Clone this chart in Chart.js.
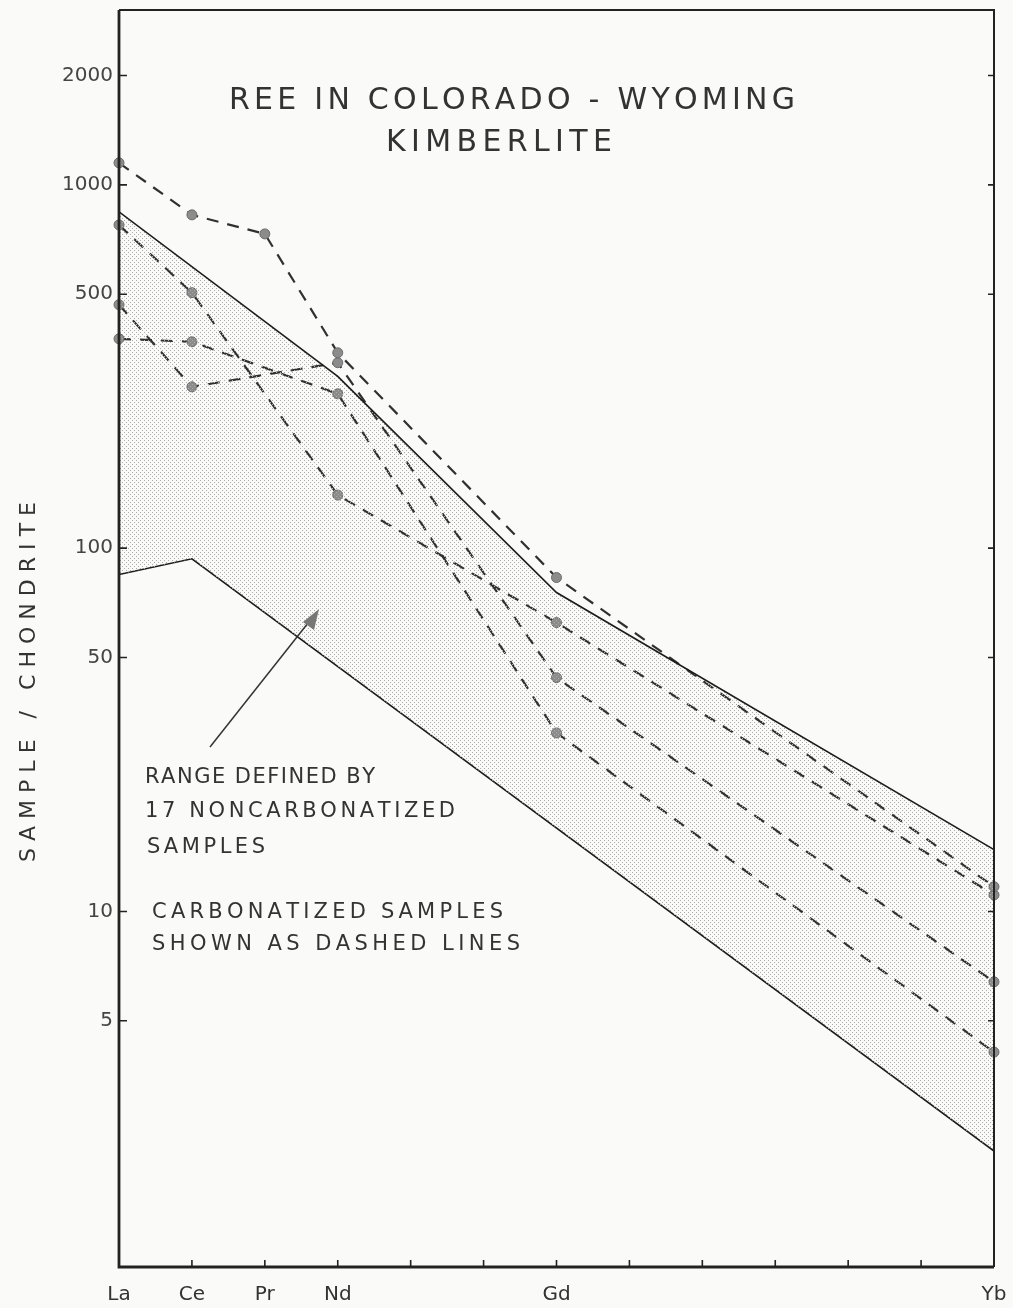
<!DOCTYPE html>
<html>
<head>
<meta charset="utf-8">
<script src="https://cdn.jsdelivr.net/npm/chart.js@4.4.1/dist/chart.umd.min.js"></script>
<style>
  html, body { margin: 0; padding: 0; background: #fafaf8; overflow: hidden; }
  #wrap { width: 1013px; height: 1308px; position: relative; }
</style>
</head>
<body>
<div id="wrap"><canvas id="reeChart"></canvas></div>
<script>
// REE pattern, sample / chondrite, log scale
const elements = ['La', 'Ce', 'Pr', 'Nd', 'Sm', 'Eu', 'Gd', 'Tb', 'Dy', 'Ho', 'Er', 'Tm', 'Yb'];
const shownLabels = ['La', 'Ce', 'Pr', 'Nd', 'Gd', 'Yb'];
const yTickValues = [5, 10, 50, 100, 500, 1000, 2000];

// range of the 17 noncarbonatized samples
const rangeUpper = [843, null, null, 297, null, null, 75.5, null, null, null, null, null, 14.8];
const rangeLower = [84.6, 93.5, null, null, null, null, null, null, null, null, null, null, 2.19];

// carbonatized samples (dashed)
const carb1 = [1150, 827, 733, 345, null, null, 83, null, null, null, null, null, 11.7];
const carb2 = [776, 505, null, 140, null, null, 62.4, null, null, null, null, null, 11.1];
const carb3 = [468, 278, null, 324, null, null, 44, null, null, null, null, null, 6.4];
const carb4 = [377, 370, null, 266, null, null, 31, null, null, null, null, null, 4.1];

const titleLines = ['REE IN COLORADO - WYOMING', 'KIMBERLITE'];
const noteLines = ['RANGE DEFINED BY', '17 NONCARBONATIZED', 'SAMPLES', 'CARBONATIZED SAMPLES', 'SHOWN AS DASHED LINES'];
const yTitle = 'SAMPLE / CHONDRITE';

function toPoints(arr) {
    return arr.map((v, i) => v == null ? null : { x: i, y: v }).filter(p => p);
}

// stipple pattern for the range band
const pc = document.createElement('canvas');
pc.width = 4; pc.height = 4;
const pctx = pc.getContext('2d');
pctx.fillStyle = '#ababab';
pctx.fillRect(0, 0, 1, 1);
pctx.fillRect(2, 2, 1, 1);

const canvas = document.getElementById('reeChart');
const ctx = canvas.getContext('2d');
const stipple = ctx.createPattern(pc, 'repeat');

const ink = '#333';
const font = '"DejaVu Sans", sans-serif';

function dashed(data) {
    return {
        data: toPoints(data), borderColor: '#303030', borderWidth: 2.2, borderDash: [12, 9],
        pointRadius: 5, pointBackgroundColor: '#8c8c8c', pointBorderColor: '#6a6a6a', pointBorderWidth: 1,
        fill: false, tension: 0, clip: 8
    };
}

// draw text stretched to a given width
function spacedText(c, text, x1, x2, y) {
    const widths = [...text].map(ch => c.measureText(ch).width);
    const total = widths.reduce((a, b) => a + b, 0);
    const gap = text.length > 1 ? (x2 - x1 - total) / (text.length - 1) : 0;
    let x = x1;
    [...text].forEach((ch, i) => { c.fillText(ch, x, y); x += widths[i] + gap; });
}

function noScalePadding(s) {
    s.paddingTop = 0; s.paddingBottom = 0; s.paddingLeft = 0; s.paddingRight = 0;
}

const framePlugin = {
    id: 'frame',
    afterDraw(chart) {
        const c = chart.ctx;
        const a = chart.chartArea;
        const xs = chart.scales.x, ys = chart.scales.y;
        c.save();
        c.strokeStyle = '#222';
        c.lineWidth = 2;
        c.beginPath();
        c.moveTo(a.left, a.top); c.lineTo(a.right, a.top); c.lineTo(a.right, a.bottom);
        c.stroke();
        c.lineWidth = 2.8;
        c.beginPath();
        c.moveTo(a.left, a.top); c.lineTo(a.left, a.bottom); c.lineTo(a.right, a.bottom);
        c.stroke();
        c.lineWidth = 1.6;
        c.beginPath();
        yTickValues.forEach(v => {
            const y = ys.getPixelForValue(v);
            c.moveTo(a.left, y); c.lineTo(a.left + 8, y);
            c.moveTo(a.right, y); c.lineTo(a.right - 6, y);
        });
        elements.forEach((e, i) => {
            if (i === 0 || i === elements.length - 1) return;
            const x = xs.getPixelForValue(i);
            c.moveTo(x, a.bottom); c.lineTo(x, a.bottom - 7);
        });
        c.stroke();
        c.restore();
    }
};

const textPlugin = {
    id: 'texts',
    afterDraw(chart) {
        const c = chart.ctx;
        c.save();
        c.fillStyle = ink;
        c.textBaseline = 'middle';
        c.textAlign = 'left';

        c.font = '30px ' + font;
        spacedText(c, titleLines[0], 229, 795, 101);
        spacedText(c, titleLines[1], 386, 612, 143);

        c.font = '21px ' + font;
        spacedText(c, noteLines[0], 145, 375, 778);
        spacedText(c, noteLines[1], 145, 455, 812);
        spacedText(c, noteLines[2], 147, 265, 848);
        spacedText(c, noteLines[3], 152, 503, 913);
        spacedText(c, noteLines[4], 152, 520, 945);

        // arrow to the band
        c.strokeStyle = '#333';
        c.lineWidth = 1.5;
        c.beginPath();
        c.moveTo(210, 747);
        c.lineTo(312, 618);
        c.stroke();
        c.fillStyle = '#777';
        c.beginPath();
        c.moveTo(319, 609);
        c.lineTo(303, 622);
        c.lineTo(314, 630);
        c.closePath();
        c.fill();

        // y axis title
        c.fillStyle = ink;
        c.translate(29, 682);
        c.rotate(-Math.PI / 2);
        c.font = '22px ' + font;
        spacedText(c, yTitle, -180, 180, 0);
        c.restore();
    }
};

new Chart(ctx, {
    type: 'line',
    data: {
        datasets: [
            {
                data: toPoints(rangeUpper), borderColor: '#1c1c1c', borderWidth: 1.6, pointRadius: 0,
                tension: 0, fill: '+1', backgroundColor: stipple
            },
            {
                data: toPoints(rangeLower), borderColor: '#1c1c1c', borderWidth: 1.6, pointRadius: 0,
                tension: 0, fill: false
            },
            dashed(carb1),
            dashed(carb2),
            dashed(carb3),
            dashed(carb4)
        ]
    },
    options: {
        responsive: true,
        maintainAspectRatio: false,
        animation: false,
        layout: { padding: { top: 10, right: 19, left: 0, bottom: 0 } },
        plugins: { legend: { display: false }, tooltip: { enabled: false } },
        scales: {
            x: {
                type: 'linear', min: 0, max: elements.length - 1,
                afterBuildTicks: s => { s.ticks = elements.map((e, i) => ({ value: i })); },
                afterFit: s => { s.height = 41; noScalePadding(s); },
                grid: { display: false, drawTicks: false },
                border: { display: false },
                ticks: {
                    autoSkip: false, maxRotation: 0, padding: 16, color: ink,
                    font: { family: font, size: 20 },
                    callback: v => shownLabels.includes(elements[v]) ? elements[v] : ''
                }
            },
            y: {
                type: 'logarithmic', min: 1.05, max: 3030,
                afterBuildTicks: s => { s.ticks = yTickValues.map(v => ({ value: v })); },
                afterFit: s => { s.width = 119; noScalePadding(s); },
                grid: { display: false, drawTicks: false },
                border: { display: false },
                ticks: {
                    padding: 6, color: '#444',
                    font: { family: font, size: 20 },
                    callback: v => String(v)
                }
            }
        }
    },
    plugins: [framePlugin, textPlugin]
});
</script>
</body>
</html>
